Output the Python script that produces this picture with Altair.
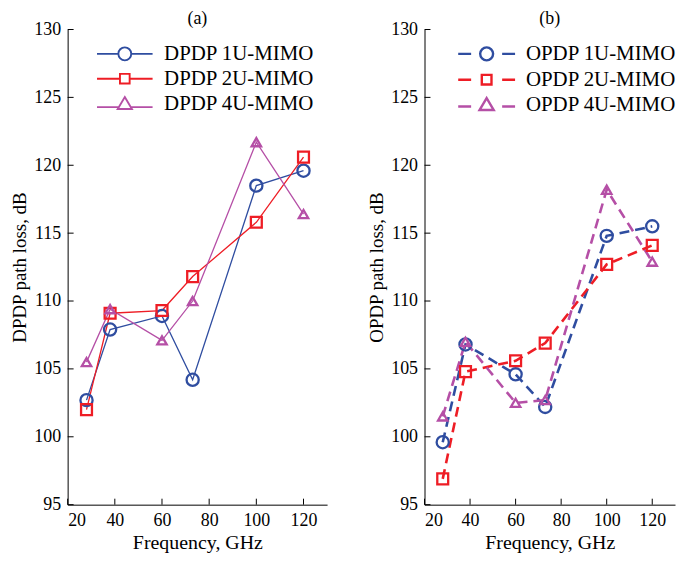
import altair as alt
import pandas as pd

# ---------------- data ----------------
freq = [28, 38, 60, 73, 100, 120]

names_a = ["DPDP 1U-MIMO", "DPDP 2U-MIMO", "DPDP 4U-MIMO"]
dpdp_1u = [102.7, 107.9, 108.9, 104.2, 118.5, 119.6]
dpdp_2u = [102.0, 109.1, 109.3, 111.8, 115.8, 120.6]
dpdp_4u = [105.5, 109.4, 107.1, 110.0, 121.7, 116.4]

names_b = ["OPDP 1U-MIMO", "OPDP 2U-MIMO", "OPDP 4U-MIMO"]
opdp_1u = [99.6, 106.8, 104.6, 102.2, 114.8, 115.5]
opdp_2u = [96.9, 104.8, 105.6, 106.9, 112.7, 114.1]
opdp_4u = [101.5, 107.0, 102.5, 102.7, 118.2, 112.9]

colors = ["#2f4da0", "#ee1d25", "#b54fa6"]
shapes = ["circle", "square", "triangle-up"]
marker_sizes = [150, 90, 240]

x_ticks = [20, 40, 60, 80, 100, 120]
y_ticks = [95, 100, 105, 110, 115, 120, 125, 130]

FONT = "Liberation Serif"
H = 478

# legend symbols: line segment(s) + marker (custom SVG paths)
legend_paths_solid = [
    "M-4.3,0H-1M1,0H4.3M1,0A1,1,0,1,1,-1,0A1,1,0,1,1,1,0",
    "M-4.3,0H-0.75M0.75,0H4.3M-0.75,-0.75H0.75V0.75H-0.75Z",
    "M-4.3,0.55H-0.95M0.95,0.55H4.3M0,-1L1.1,0.85H-1.1Z",
]
legend_paths_dashed = [
    "M-4.4,0H-2.4M2.4,0H4.4M1,0A1,1,0,1,1,-1,0A1,1,0,1,1,1,0",
    "M-4.4,0H-2.4M2.4,0H4.4M-0.75,-0.75H0.75V0.75H-0.75Z",
    "M-4.4,0.3H-2.4M2.4,0.3H4.4M0,-1L1.1,0.85H-1.1Z",
]


def to_df(names, series):
    rows = []
    for name, vals in zip(names, series):
        for f, v in zip(freq, vals):
            rows.append({"freq": f, "loss": v, "series": name})
    return pd.DataFrame(rows)


def panel(df, names, dashed, title, ytitle, width, legend_x, legend_paths):
    xs = alt.Scale(domain=[20, 130], nice=False, zero=False)
    ys = alt.Scale(domain=[95, 130], nice=False, zero=False)
    xaxis = alt.Axis(values=x_ticks, ticks=False, tickSize=0, grid=False, title="Frequency, GHz",
                     labelPadding=7, titlePadding=3, format="d")
    yaxis = alt.Axis(values=y_ticks, ticks=False, tickSize=0, grid=False, title=ytitle,
                     labelPadding=7, titlePadding=4, format="d", titleFontSize=19)
    x = alt.X("freq:Q", scale=xs, axis=xaxis)
    y = alt.Y("loss:Q", scale=ys, axis=yaxis)
    cscale = alt.Scale(domain=names, range=colors)
    base = alt.Chart(df)

    line_kw = dict(strokeWidth=2.6, strokeDash=[10, 6]) if dashed else dict(strokeWidth=1.3)
    lines = base.mark_line(**line_kw).encode(
        x=x, y=y, color=alt.Color("series:N", scale=cscale, legend=None))

    points = base.mark_point(filled=False, strokeWidth=2.3, opacity=1).encode(
        x=x, y=y,
        color=alt.Color("series:N", scale=cscale, legend=None),
        shape=alt.Shape("series:N", scale=alt.Scale(domain=names, range=shapes), legend=None),
        size=alt.Size("series:N", scale=alt.Scale(domain=names, range=marker_sizes), legend=None),
    )

    leg = dict(
        title=None, orient="none", legendX=legend_x, legendY=14,
        labelFont=FONT, labelFontSize=21, labelColor="black", labelLimit=300,
        symbolSize=169, symbolStrokeWidth=2.4 if dashed else 1.9,
        symbolOffset=21, labelOffset=29, rowPadding=3, padding=0,
        symbolFillColor="transparent",
    )
    legend_layer = base.transform_filter("datum.freq < 0").mark_point(
        filled=False, opacity=1, strokeWidth=2).encode(
        x=x, y=y,
        color=alt.Color("series:N", scale=cscale, legend=alt.Legend(**leg)),
        shape=alt.Shape("series:N", scale=alt.Scale(domain=names, range=legend_paths),
                        legend=alt.Legend(**leg)),
    )

    ytick_df = pd.DataFrame({"v": y_ticks})
    xtick_df = pd.DataFrame({"v": x_ticks})
    yt = alt.Chart(ytick_df).mark_rule(color="black", strokeWidth=1).encode(
        y=alt.Y("v:Q", scale=ys, axis=yaxis), x=alt.value(0), x2=alt.value(6))
    xt = alt.Chart(xtick_df).mark_rule(color="black", strokeWidth=1).encode(
        x=alt.X("v:Q", scale=xs, axis=xaxis), y=alt.value(H), y2=alt.value(H - 6))

    return alt.layer(lines, points, legend_layer, yt, xt).resolve_scale(
        color="independent", shape="independent", size="independent"
    ).properties(
        width=width, height=H,
        title=alt.TitleParams(title, font=FONT, fontSize=18, fontWeight="normal",
                              color="black", offset=-7, anchor="middle"),
    )


df_a = to_df(names_a, [dpdp_1u, dpdp_2u, dpdp_4u])
df_b = to_df(names_b, [opdp_1u, opdp_2u, opdp_4u])

left = panel(df_a, names_a, False, "(a)", "DPDP path loss, dB", 261, 26, legend_paths_solid)
right = panel(df_b, names_b, True, "(b)", "OPDP path loss, dB", 252, 31, legend_paths_dashed)

chart = alt.hconcat(left, right, spacing=41).properties(
    padding={"left": 3, "top": 0, "right": 0, "bottom": 0}
).configure_view(
    stroke=None
).configure_axis(
    labelFont=FONT, labelFontSize=18, labelColor="black",
    titleFont=FONT, titleFontSize=20, titleFontWeight="normal", titleColor="black",
    domainColor="black", domainWidth=1,
)

chart.save("out.html", embed_options={"renderer": "svg", "actions": False})
